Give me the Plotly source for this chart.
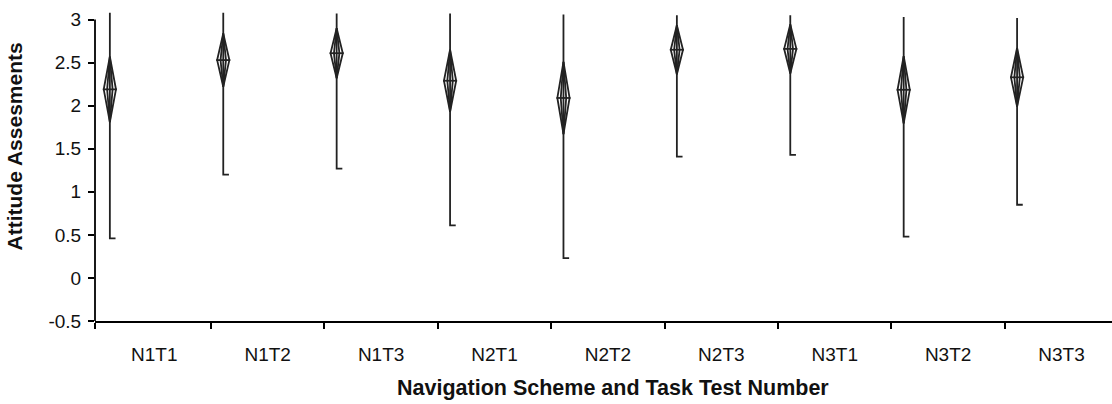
import math
import plotly.graph_objects as go

# Means-diamond summary per navigation scheme / task test
groups = ["N1T1", "N1T2", "N1T3", "N2T1", "N2T2", "N2T3", "N3T1", "N3T2", "N3T3"]
means = [2.19, 2.53, 2.61, 2.29, 2.09, 2.65, 2.66, 2.185, 2.33]
ci_half = [0.38, 0.31, 0.29, 0.36, 0.42, 0.285, 0.285, 0.39, 0.34]
mins = [0.46, 1.20, 1.27, 0.61, 0.23, 1.41, 1.43, 0.48, 0.85]
maxs = [3.08, 3.08, 3.07, 3.07, 3.06, 3.05, 3.05, 3.03, 3.02]
y_ticks = [-0.5, 0, 0.5, 1, 1.5, 2, 2.5, 3]

x_title = "Navigation Scheme and Task Test Number"
y_title = "Attitude Assesments"

# drawing geometry (in x-axis units)
X_SHIFT = -0.392      # diamonds sit toward the left of each category slot
HALF_W = 0.054        # diamond half width
INNER_W = 0.024       # inner lens half width
FOOT = 0.05           # small foot at the minimum
X_RANGE = [-0.523, 8.445]

INK = "#222222"
FONT = "Liberation Sans, Arial, sans-serif"

xs, ys = [], []


def seg(pts):
    for px, py in pts:
        xs.append(px)
        ys.append(py)
    xs.append(None)
    ys.append(None)


for i, (m, c, lo, hi) in enumerate(zip(means, ci_half, mins, maxs)):
    xc = i + X_SHIFT
    # range line with foot at the minimum
    seg([(xc + FOOT, lo), (xc, lo), (xc, hi)])
    # outer diamond
    seg([(xc, m + c), (xc + HALF_W, m), (xc, m - c), (xc - HALF_W, m), (xc, m + c)])
    # inner lens
    seg([(xc, m + c), (xc + INNER_W, m), (xc, m - c), (xc - INNER_W, m), (xc, m + c)])
    # mean line
    seg([(xc - HALF_W * 1.15, m), (xc + HALF_W * 1.15, m)])
    # overlap marks
    d = c / math.sqrt(2)
    w = HALF_W * (1 - 1 / math.sqrt(2))
    seg([(xc - w, m + d), (xc + w, m + d)])
    seg([(xc - w, m - d), (xc + w, m - d)])

fig = go.Figure()
fig.add_trace(go.Scatter(
    x=xs, y=ys, mode="lines",
    line=dict(color=INK, width=1.8),
    hoverinfo="skip", showlegend=False,
))

# y axis line stops at the top tick
fig.add_shape(type="line", xref="paper", yref="y", x0=0, x1=0,
              y0=y_ticks[0], y1=y_ticks[-1],
              line=dict(color="black", width=1.8))

boundaries = [X_RANGE[0]] + [k + 0.5 for k in range(len(groups) - 1)]

# axis titles
fig.add_annotation(text=f"<b>{x_title}</b>", xref="paper", yref="paper",
                   x=0.509, y=-0.215, xanchor="center", yanchor="middle",
                   showarrow=False, font=dict(size=21.5))
fig.add_annotation(text=f"<b>{y_title}</b>", xref="paper", yref="paper",
                   x=-0.079, y=0.562, xanchor="center", yanchor="middle",
                   textangle=-90, showarrow=False, font=dict(size=21))

fig.update_layout(
    width=1112, height=404,
    margin=dict(l=95, r=0, t=11, b=83),
    paper_bgcolor="white", plot_bgcolor="white",
    font=dict(family=FONT, size=19, color="#111111"),
    xaxis=dict(
        range=X_RANGE,
        tickmode="array", tickvals=list(range(len(groups))), ticktext=groups,
        ticks="outside", ticklen=0, tickcolor="black",
        ticklabelstandoff=15,
        showline=True, linecolor="black", linewidth=1.8,
        showgrid=False, zeroline=False,
        minor=dict(tickmode="array", tickvals=boundaries, ticks="outside",
                   ticklen=6, tickwidth=1.5, tickcolor="black", showgrid=False),
    ),
    yaxis=dict(
        range=[-0.5, 3.1],
        tickmode="array", tickvals=y_ticks,
        ticktext=[f"{v:g}" for v in y_ticks],
        ticks="outside", ticklen=6, tickwidth=1.5, tickcolor="black",
        ticklabelstandoff=3,
        showline=False, showgrid=False, zeroline=False,
    ),
)

fig.write_html("out.html")
